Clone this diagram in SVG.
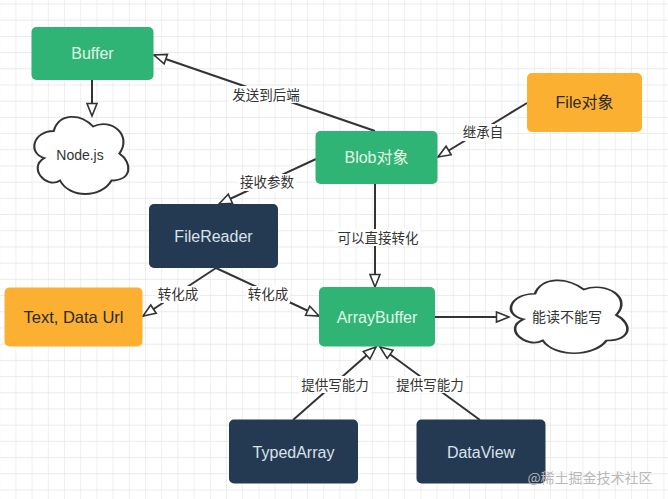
<svg xmlns="http://www.w3.org/2000/svg" width="668" height="499" viewBox="0 0 668 499">
<defs>
<pattern id="grid" x="-0.8" y="3.5" width="16.2" height="16.2" patternUnits="userSpaceOnUse">
<path d="M0,0 H16.2 M0,0 V16.2" fill="none" stroke="#e4e4e4" stroke-width="1.2"/>
</pattern>
<marker id="arr" markerUnits="userSpaceOnUse" markerWidth="16" markerHeight="14" refX="14" refY="6" orient="auto">
<path d="M1.5,1 L14,6 L1.5,11 Z" fill="#ffffff" stroke="#333333" stroke-width="1.6" stroke-linejoin="miter"/>
</marker>
<path id="cloud" d="M25,25 C5,25 0,50 16,55 C0,66 18,90 31,80 C40,100 70,100 80,80 C100,80 100,60 87.5,50 C100,30 80,10 62.5,20 C50,5 30,5 25,25 Z"/>
</defs>
<style>
.green{fill:#2fb475}
.orange{fill:#fbb032}
.navy{fill:#243a52}
.lbl{font-family:"Liberation Sans","Noto Sans CJK SC",sans-serif;font-size:16px;text-anchor:middle;dominant-baseline:central}
.gt{fill:#e2f6e8}
.ot{fill:#2b2b2b}
.nt{fill:#dae2ea}
.edge{fill:none;stroke:#333333;stroke-width:2;marker-end:url(#arr)}
.el{font-family:"Liberation Sans","Noto Sans CJK SC",sans-serif;font-size:13.5px;fill:#333333;text-anchor:middle;dominant-baseline:central}
.elbg{fill:#ffffff}
.cl{fill:#ffffff;stroke:#333333;stroke-width:2;vector-effect:non-scaling-stroke}
</style>
<rect x="0" y="0" width="668" height="499" fill="#ffffff"/>
<rect x="0" y="0" width="668" height="499" fill="url(#grid)"/>

<g id="connectors">
<line class="edge" x1="375" y1="131" x2="154" y2="55"/>
<line class="edge" x1="92" y1="80" x2="92" y2="116"/>
<line class="edge" x1="527" y1="103" x2="438" y2="157"/>
<line class="edge" x1="316" y1="159" x2="219" y2="204"/>
<line class="edge" x1="375" y1="184" x2="375" y2="287"/>
<line class="edge" x1="216" y1="268" x2="143" y2="316"/>
<line class="edge" x1="216" y1="268" x2="319" y2="316"/>
<line class="edge" x1="435" y1="317" x2="509" y2="317"/>
<line class="edge" x1="293" y1="420" x2="376" y2="347"/>
<line class="edge" x1="480" y1="420" x2="380" y2="347"/>
<rect class="elbg" x="229" y="86" width="74" height="17"/>
<text class="el" x="266" y="95">发送到后端</text>
<rect class="elbg" x="461" y="124" width="44" height="17"/>
<text class="el" x="483" y="132">继承自</text>
<rect class="elbg" x="238" y="174" width="58" height="17"/>
<text class="el" x="267" y="182">接收参数</text>
<rect class="elbg" x="335" y="229" width="86" height="17"/>
<text class="el" x="378" y="238">可以直接转化</text>
<rect class="elbg" x="156" y="286" width="44" height="17"/>
<text class="el" x="178" y="294">转化成</text>
<rect class="elbg" x="246" y="286" width="44" height="17"/>
<text class="el" x="268" y="294">转化成</text>
<rect class="elbg" x="299" y="376" width="72" height="17"/>
<text class="el" x="335" y="385">提供写能力</text>
<rect class="elbg" x="394" y="376" width="72" height="17"/>
<text class="el" x="430" y="385">提供写能力</text>
</g>

<g id="buffer">
<rect class="green" x="31.5" y="27" width="122" height="53" rx="5"/>
<text class="lbl gt" x="92.5" y="53.5">Buffer</text>
</g>
<g id="nodejs">
<use href="#cloud" class="cl" transform="translate(27.5,108.5) scale(1.05,0.9)"/>
<text class="el" x="80" y="155" style="font-size:14px">Node.js</text>
</g>
<g id="blob">
<rect class="green" x="315.5" y="131" width="122" height="53" rx="5"/>
<text class="lbl gt" x="376.5" y="157.5">Blob对象</text>
</g>
<g id="file">
<rect class="orange" x="527" y="73" width="115" height="59" rx="5"/>
<text class="lbl ot" x="584.5" y="102.5">File对象</text>
</g>
<g id="filereader">
<rect class="navy" x="149" y="204" width="129" height="64" rx="5"/>
<text class="lbl nt" x="213.5" y="236">FileReader</text>
</g>
<g id="textdataurl">
<rect class="orange" x="4.5" y="287.5" width="138" height="59" rx="5"/>
<text class="lbl ot" x="73.5" y="317" style="font-size:16.5px">Text, Data Url</text>
</g>
<g id="arraybuffer">
<rect class="green" x="319" y="287" width="116" height="59.5" rx="5"/>
<text class="lbl gt" x="377" y="317">ArrayBuffer</text>
</g>
<g id="readonly">
<use href="#cloud" class="cl" transform="translate(502.5,272.5) scale(1.3,0.85)"/>
<text class="el" x="567" y="317" style="font-size:14px">能读不能写</text>
</g>
<g id="typedarray">
<rect class="navy" x="229" y="419.5" width="129" height="64" rx="5"/>
<text class="lbl nt" x="293.5" y="452">TypedArray</text>
</g>
<g id="dataview">
<rect class="navy" x="416.5" y="419.5" width="129" height="64" rx="5"/>
<text class="lbl nt" x="481" y="452">DataView</text>
</g>
<text x="590" y="477" style="font-family:'Noto Sans CJK SC',sans-serif;font-size:14px;fill:#b8b8b8;text-anchor:middle;dominant-baseline:central">@稀土掘金技术社区</text>
</svg>
